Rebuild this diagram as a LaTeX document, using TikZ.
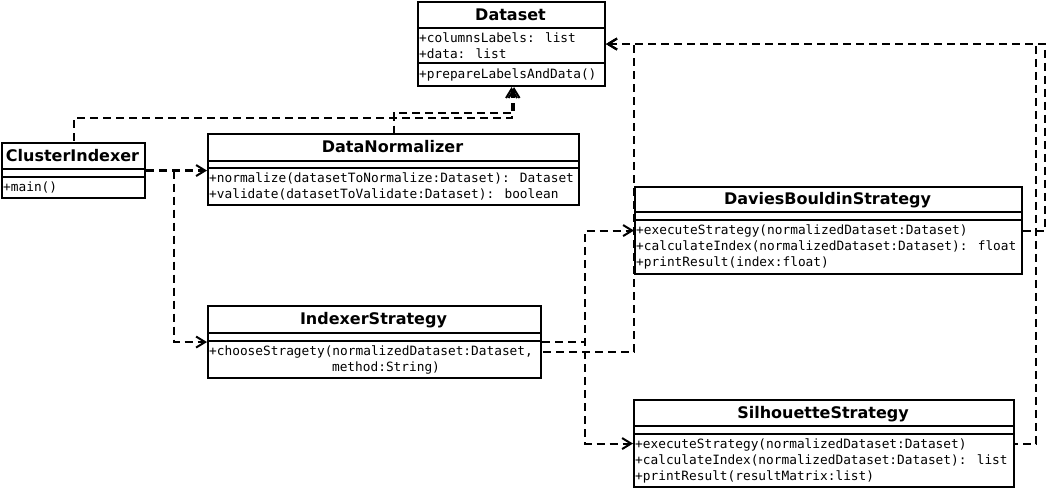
\documentclass[tikz,border=0pt]{standalone}
\usepackage{fontspec}
\setmainfont{DejaVu Sans}
\newfontfamily\umlmono{DejaVu Sans Mono}
\usetikzlibrary{arrows.meta}
\tikzset{
  classbox/.style={draw, line width=2.1pt, rectangle, inner sep=0pt, anchor=north west, fill=white},
  rule/.style={line width=2.1pt},
  ctitle/.style={inner sep=0pt, anchor=center, font=\bfseries\fontsize{16}{18}\selectfont, text height=11.7pt, text depth=0pt},
  member/.style={inner sep=0pt, anchor=west, font=\umlmono\fontsize{12.8}{16}\selectfont, text height=9.3pt, text depth=0pt},
  dashline/.style={line width=2.1pt, dash pattern=on 8pt off 5pt},
  dep/.style={dashline, -{Straight Barb[length=9pt,width=11pt,line width=2pt]}},
  depback/.style={dashline, {Straight Barb[length=9pt,width=11pt,line width=2pt]}-},
}
\begin{document}
\begin{tikzpicture}[x=1pt,y=-1pt]
\fill[white] (0,0) rectangle (1046,489);
\useasboundingbox (0,0) rectangle (1046,489);

% Dataset
\node[classbox, minimum width=187pt, minimum height=84pt] (ds) at (417,1) {};
\draw[rule] (417,28) -- (604,28);
\draw[rule] (417,63) -- (604,63);
\node[ctitle] (dsT) at (510.5,14.5) {Dataset};
\node[member] (dsA1) at (419,38) {+columnsLabels: list};
\node[member] (dsA2) at (419,54) {+data: list};
\node[member] (dsM1) at (419,74) {+prepareLabelsAndData()};

% ClusterIndexer
\node[classbox, minimum width=143pt, minimum height=55pt] (ci) at (1,142) {};
\draw[rule] (1,169) -- (144,169);
\draw[rule] (1,177) -- (144,177);
\node[ctitle] (ciT) at (72.5,155.5) {ClusterIndexer};
\node[member] (ciM1) at (3,187) {+main()};

% DataNormalizer
\node[classbox, minimum width=371pt, minimum height=71pt] (dn) at (207,133) {};
\draw[rule] (207,161) -- (578,161);
\draw[rule] (207,168) -- (578,168);
\node[ctitle] (dnT) at (392.5,147) {DataNormalizer};
\node[member] (dnM1) at (209,178) {+normalize(datasetToNormalize:Dataset): Dataset};
\node[member] (dnM2) at (209,194) {+validate(datasetToValidate:Dataset): boolean};

% IndexerStrategy
\node[classbox, minimum width=333pt, minimum height=72pt] (is) at (207,305) {};
\draw[rule] (207,333) -- (540,333);
\draw[rule] (207,341) -- (540,341);
\node[ctitle] (isT) at (373.5,319) {IndexerStrategy};
\node[member] (isM1) at (209,351) {+chooseStragety(normalizedDataset:Dataset,};
\node[member, anchor=center] (isM2) at (386,367) {method:String)};

% DaviesBouldinStrategy
\node[classbox, minimum width=387pt, minimum height=87pt] (dbs) at (634,186) {};
\draw[rule] (634,212) -- (1021,212);
\draw[rule] (634,220) -- (1021,220);
\node[ctitle] (dbsT) at (827.5,199) {DaviesBouldinStrategy};
\node[member] (dbsM1) at (636,230) {+executeStrategy(normalizedDataset:Dataset)};
\node[member] (dbsM2) at (636,246) {+calculateIndex(normalizedDataset:Dataset): float};
\node[member] (dbsM3) at (636,262) {+printResult(index:float)};

% SilhouetteStrategy
\node[classbox, minimum width=380pt, minimum height=87pt] (ss) at (633,399) {};
\draw[rule] (633,426) -- (1013,426);
\draw[rule] (633,434) -- (1013,434);
\node[ctitle] (ssT) at (823,412.5) {SilhouetteStrategy};
\node[member] (ssM1) at (635,444) {+executeStrategy(normalizedDataset:Dataset)};
\node[member] (ssM2) at (635,460) {+calculateIndex(normalizedDataset:Dataset): list};
\node[member] (ssM3) at (635,476) {+printResult(resultMatrix:list)};

% connectors
\draw[dep] (ci.east) -- (ci.east -| dn.west);
\draw[dep] ([xshift=28pt]ci.east) |- (is.west);
\draw[depback] (ds.south) |- ([yshift=24pt]ci.north) -- (ci.north);
\draw[depback] ([xshift=2.5pt]ds.south) |- ([yshift=20pt]dn.north) -- (dn.north);
\draw[dep] (is.east) -- ++(43,0) |- (dbs.west);
\draw[dep] (is.east) -- ++(43,0) |- (ss.west);
\draw[depback] (ds.east) -| ([yshift=-10pt]is.east -| dbs.west) -- ([yshift=-10pt]is.east);
\draw[depback] (ds.east) -| ([xshift=22pt]dbs.east) -- (dbs.east);
\draw[depback] (ds.east) -| ([xshift=21pt]ss.east) -- (ss.east);
\end{tikzpicture}
\end{document}
